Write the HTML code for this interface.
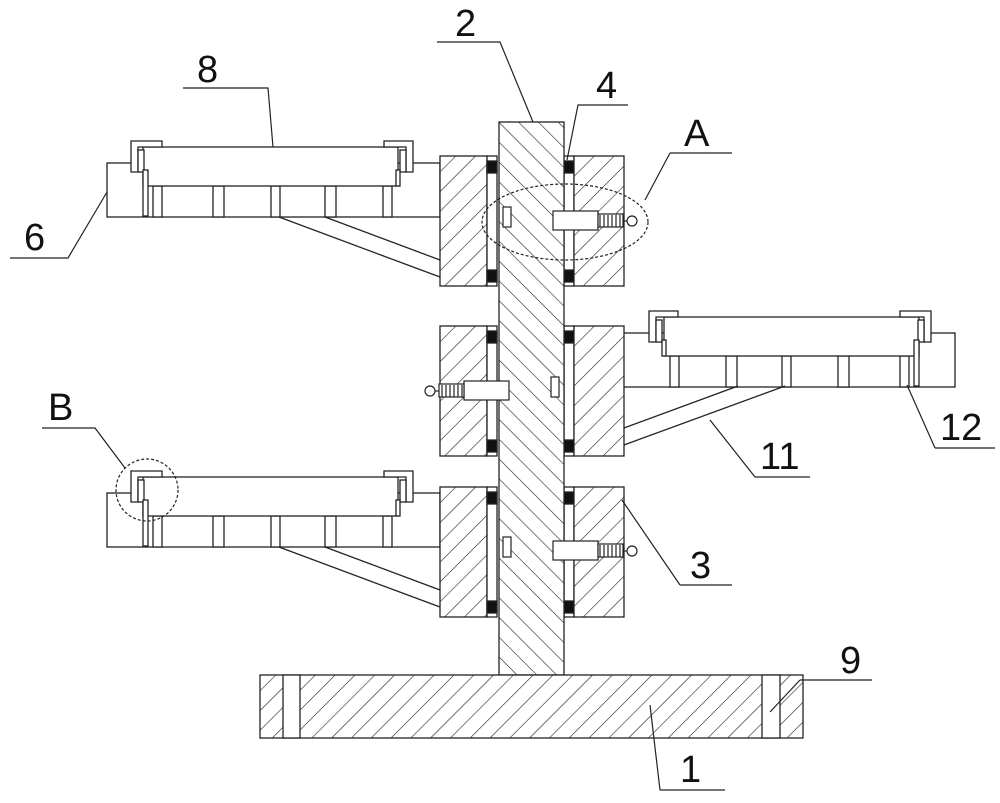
<!DOCTYPE html>
<html><head><style>
html,body{margin:0;padding:0;background:#fff;width:1000px;height:803px;overflow:hidden}
svg{display:block}
text{font-family:"Liberation Sans",sans-serif;font-size:38px;fill:#111}
</style></head><body>
<svg width="1000" height="803" viewBox="0 0 1000 803" xmlns="http://www.w3.org/2000/svg">
<defs>
<pattern id="hf" patternUnits="userSpaceOnUse" width="14" height="14" patternTransform="rotate(45)">
<rect width="14" height="14" fill="#fff"/><line x1="0" y1="0" x2="0" y2="14" stroke="#222" stroke-width="1.2"/></pattern>
<pattern id="hb" patternUnits="userSpaceOnUse" width="14" height="14" patternTransform="rotate(-45)">
<rect width="14" height="14" fill="#fff"/><line x1="0" y1="0" x2="0" y2="14" stroke="#222" stroke-width="1.2"/></pattern>
<g id="tray" fill="#fff" stroke="#222" stroke-width="1.3">
<rect x="107" y="163" width="333" height="54"/>
<rect x="153" y="186" width="9" height="31"/>
<rect x="213" y="186" width="11" height="31"/>
<rect x="271" y="186" width="9" height="31"/>
<rect x="325" y="186" width="11" height="31"/>
<rect x="383" y="186" width="9" height="31"/>
<rect x="143" y="147" width="255" height="39"/>
<path d="M131 172 V141 H162 V147 H138 V172 Z"/>
<rect x="138" y="150" width="6" height="22"/>
<rect x="143" y="170" width="5" height="46"/>
<path d="M413 172 V141 H384 V147 H406 V172 Z"/>
<rect x="400" y="150" width="6" height="22"/>
<rect x="396" y="170" width="4" height="16"/>
</g>
<g id="blk" stroke="#222" stroke-width="1.3">
<rect x="440" y="0" width="47" height="130" fill="url(#hf)"/>
<rect x="487" y="0" width="10" height="130" fill="#fff"/>
<rect x="487" y="5" width="10" height="12" fill="#111"/>
<rect x="487" y="114" width="10" height="12" fill="#111"/>
<rect x="564" y="0" width="10" height="130" fill="#fff"/>
<rect x="564" y="5" width="10" height="12" fill="#111"/>
<rect x="564" y="114" width="10" height="12" fill="#111"/>
<rect x="574" y="0" width="50" height="130" fill="url(#hf)"/>
</g>
<g id="pinR" stroke="#222" stroke-width="1.2" fill="#fff">
<rect x="553" y="-10" width="45" height="19"/>
<rect x="598" y="-7" width="25" height="13"/>
<path d="M600 -6 v12 M604 -6 v12 M608 -6 v12 M612 -6 v12 M616 -6 v12 M620 -6 v12" />
<line x1="623" y1="0" x2="627" y2="0"/>
<circle cx="632" cy="0" r="5"/>
<rect x="503" y="-14" width="8" height="20"/>
</g>
</defs>

<use href="#tray"/>
<use href="#tray" transform="translate(0,330)"/>
<use href="#tray" transform="translate(1062,170) scale(-1,1)"/>

<g stroke="#222" stroke-width="1.3">
<line x1="279" y1="217" x2="440" y2="277"/>
<line x1="325" y1="217" x2="440" y2="260"/>
<line x1="279" y1="547" x2="440" y2="607"/>
<line x1="325" y1="547" x2="440" y2="590"/>
<line x1="738" y1="386" x2="624" y2="428"/>
<line x1="785" y1="386" x2="624" y2="445"/>
</g>

<use href="#blk" transform="translate(0,156)"/>
<use href="#blk" transform="translate(0,326)"/>
<use href="#blk" transform="translate(0,487)"/>

<rect x="499" y="122" width="65" height="553" fill="url(#hb)" stroke="#222" stroke-width="1.3"/>

<use href="#pinR" transform="translate(0,221)"/>
<use href="#pinR" transform="translate(0,551)"/>
<use href="#pinR" transform="translate(1062,391) scale(-1,1)"/>

<rect x="260" y="675" width="543" height="63" fill="url(#hf)" stroke="#222" stroke-width="1.3"/>
<rect x="283" y="675" width="17" height="63" fill="#fff" stroke="#222" stroke-width="1.3"/>
<rect x="762" y="675" width="18" height="63" fill="#fff" stroke="#222" stroke-width="1.3"/>

<g fill="none" stroke="#222" stroke-width="1.2" stroke-dasharray="3,2">
<ellipse cx="565" cy="222" rx="83" ry="38"/>
<circle cx="147" cy="490" r="31"/>
</g>

<g fill="none" stroke="#222" stroke-width="1.2">
<path d="M437 42 H500 L533 122"/>
<path d="M628 105 H578 L567 160"/>
<path d="M670 153 H732 M670 153 L645 200"/>
<path d="M183 88 H268 L273 147"/>
<path d="M10 258 H68 L107 192"/>
<path d="M935 448 H995 M935 448 L907 385"/>
<path d="M755 477 H810 M755 477 L710 420"/>
<path d="M42 428 H95 L125 468"/>
<path d="M680 585 H732 M680 585 L622 500"/>
<path d="M800 680 H872 M800 680 L770 712"/>
<path d="M660 790 H725 M660 790 L650 705"/>
</g>
<text x="455" y="36">2</text>
<text x="596" y="98">4</text>
<text x="684" y="146">A</text>
<text x="197" y="82">8</text>
<text x="24" y="250">6</text>
<text x="940" y="440">12</text>
<text x="760" y="469">11</text>
<text x="48" y="420">B</text>
<text x="690" y="578">3</text>
<text x="840" y="673">9</text>
<text x="680" y="782">1</text>
</svg>
</body></html>
